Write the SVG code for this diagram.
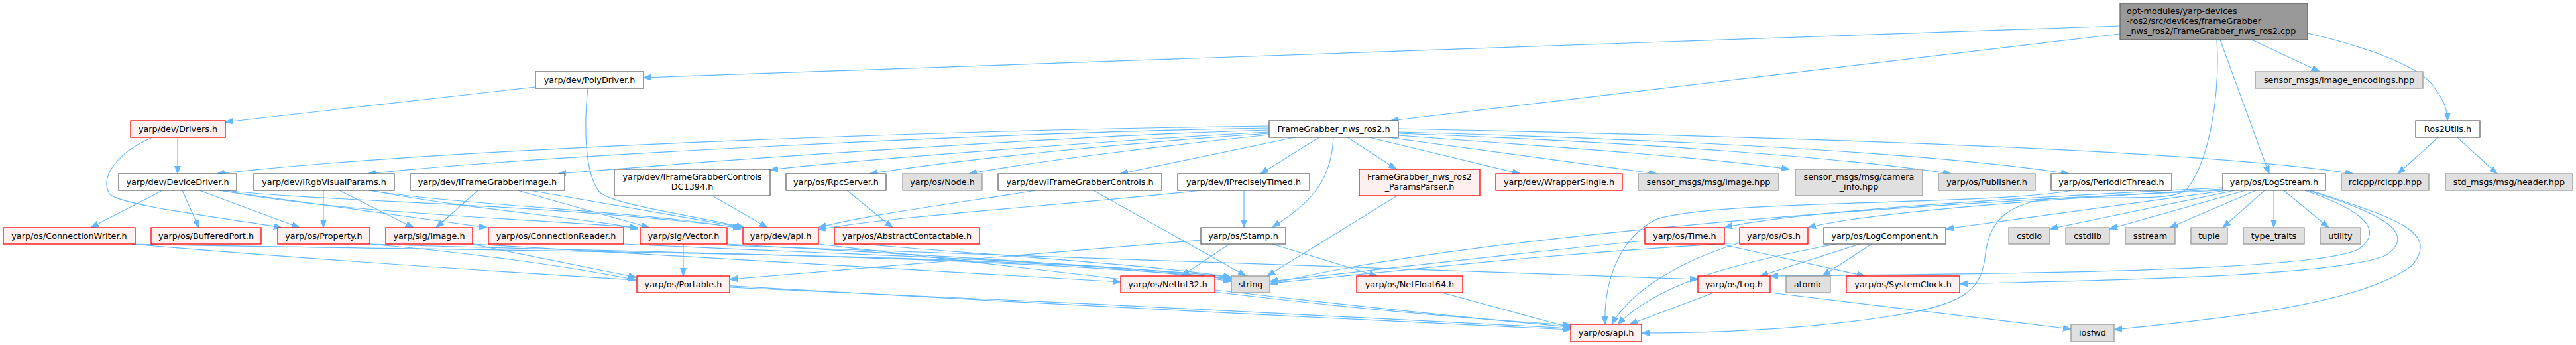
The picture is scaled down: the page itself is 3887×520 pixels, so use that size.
<svg xmlns="http://www.w3.org/2000/svg" width="3887" height="520" viewBox="0 0 3887 520">
<style>
rect{stroke-width:1.3}
.w rect{fill:#ffffff;stroke:#666666}
.r rect{fill:#fff0f0;stroke:#ff0000}
.g rect{fill:#e0e0e0;stroke:#999999}
.m rect{fill:#999999;stroke:#666666}
text{font-family:"DejaVu Sans","Liberation Sans",sans-serif;font-size:12.8px;fill:#000;text-anchor:middle}
.m text{text-anchor:start}
#edges path{fill:none;stroke:#63b8ff;stroke-width:1.2;marker-end:url(#ah)}
</style>
<defs>
<marker id="ah" markerUnits="userSpaceOnUse" markerWidth="13" markerHeight="10" refX="12" refY="4.5" orient="auto">
<path d="M0,0 L12,4.5 L0,9 z" fill="#63b8ff" stroke="#63b8ff" stroke-width="1"/>
</marker>
</defs>
<rect width="3887" height="520" fill="#ffffff"/>
<g id="edges">
<path d="M3199,39 L971,117"/>
<path d="M3199,51 L2098,182"/>
<path d="M3398,60 L3500,108"/>
<path d="M3482,50 C3560,68 3640,95 3668,125 C3688,150 3693,165 3693,182"/>
<path d="M3350,60 L3424,262"/>
<path d="M3345,60 C3350,140 3335,240 3300,285 C3280,300 3250,298 3120,298 C3020,300 3000,340 2995,390 C2988,440 2960,460 2850,477 C2700,500 2550,502 2477,502"/>
<path d="M808,131 L340,184"/>
<path d="M887,133 C882,180 880,260 905,290 C930,310 1050,325 1123,343"/>
<path d="M268,207 L268,262"/>
<path d="M230,207 C180,228 150,265 165,292 C180,310 350,330 425,343"/>
<path d="M1915,190 C1500,195 700,220 327,262"/>
<path d="M1915,193 C1500,200 800,235 555,262"/>
<path d="M1915,196 C1600,205 1100,240 842,262"/>
<path d="M1915,199 C1700,210 1300,240 1162,256"/>
<path d="M1915,201 C1700,215 1450,240 1312,262"/>
<path d="M1915,203 C1750,220 1550,245 1462,262"/>
<path d="M1958,206 L1690,262"/>
<path d="M1992,206 L1902,262"/>
<path d="M2012,206 C2010,260 1990,300 1920,342"/>
<path d="M2032,206 L2107,255"/>
<path d="M2062,206 L2294,262"/>
<path d="M2095,207 L2500,262"/>
<path d="M2110,204 C2400,225 2600,240 2700,255"/>
<path d="M2110,201 C2500,215 2800,240 2944,262"/>
<path d="M2110,199 C2600,212 2950,235 3122,262"/>
<path d="M2110,194 C2800,208 3350,230 3551,262"/>
<path d="M3679,207 L3618,262"/>
<path d="M3708,207 L3768,262"/>
<path d="M245,287 L137,343"/>
<path d="M275,287 L300,343"/>
<path d="M301,287 L452,343"/>
<path d="M329,287 L735,343"/>
<path d="M340,287 C500,305 800,305 1118,343"/>
<path d="M335,287 C500,320 800,330 962,343"/>
<path d="M488,287 L488,343"/>
<path d="M512,287 L624,343"/>
<path d="M556,287 C700,310 1000,320 1118,345"/>
<path d="M560,287 C700,315 900,330 962,345"/>
<path d="M721,287 L658,343"/>
<path d="M781,287 L980,343"/>
<path d="M800,287 L1122,343"/>
<path d="M1075,295 L1158,343"/>
<path d="M1278,287 L1347,343"/>
<path d="M1563,287 C1450,305 1300,325 1235,343"/>
<path d="M1650,287 L1880,416"/>
<path d="M1877,287 L1877,343"/>
<path d="M1812,287 C1600,310 1350,325 1235,346"/>
<path d="M2108,295 L1912,416"/>
<path d="M1855,368 L1783,416"/>
<path d="M1920,368 L2078,416"/>
<path d="M1812,362 L1101,421"/>
<path d="M1031,368 L1031,416"/>
<path d="M712,368 L960,418"/>
<path d="M558,368 C700,380 850,400 960,422"/>
<path d="M199,368 C800,420 1800,470 2370,497"/>
<path d="M199,368 C600,378 1500,378 1858,418"/>
<path d="M558,368 C900,380 1500,385 1858,420"/>
<path d="M941,368 C1300,385 1700,395 1858,422"/>
<path d="M1097,368 C1400,385 1700,400 1858,424"/>
<path d="M1097,370 L2562,421"/>
<path d="M713,368 L1691,425"/>
<path d="M1300,368 C1500,385 1750,400 1858,418"/>
<path d="M1235,368 C1600,410 2100,470 2370,493"/>
<path d="M1101,433 C1500,450 2000,475 2370,495"/>
<path d="M1833,440 C2000,460 2200,480 2370,490"/>
<path d="M2176,441 L2370,494"/>
<path d="M2482,363 C2300,380 2100,405 1916,424"/>
<path d="M2596,368 L2814,416"/>
<path d="M2625,366 C2300,385 2100,410 1916,427"/>
<path d="M2625,366 C2530,395 2460,440 2432,489"/>
<path d="M2806,368 L2656,416"/>
<path d="M2824,368 L2750,416"/>
<path d="M2770,368 C2600,400 2500,430 2441,489"/>
<path d="M2586,441 L2459,489"/>
<path d="M2671,441 L3125,496"/>
<path d="M3127,287 C3000,310 2600,300 2500,330 C2440,360 2420,430 2422,489"/>
<path d="M3360,287 L2936,345"/>
<path d="M3372,287 L3093,345"/>
<path d="M3388,287 L3183,345"/>
<path d="M3404,287 L3274,343"/>
<path d="M3417,287 L3354,343"/>
<path d="M3431,287 L3431,343"/>
<path d="M3446,287 L3514,343"/>
<path d="M3354,283 C3000,300 2700,320 2602,343"/>
<path d="M3354,285 C3000,305 2800,325 2728,343"/>
<path d="M3354,287 C2800,310 2200,360 1916,428"/>
<path d="M3478,287 C3560,315 3600,345 3560,375 C3500,410 3000,413 2671,416"/>
<path d="M3482,287 C3590,320 3650,350 3600,385 C3520,420 3100,423 2957,428"/>
<path d="M3486,287 C3620,330 3680,350 3640,400 C3560,460 3350,480 3190,497"/>
</g>
<g id="n0" class="m"><rect x="3199" y="5" width="283" height="55"/><text x="3209" y="21">opt-modules/yarp-devices</text><text x="3209" y="36">-ros2/src/devices/frameGrabber</text><text x="3209" y="51">_nws_ros2/FrameGrabber_nws_ros2.cpp</text></g>
<g id="n1" class="w"><rect x="808" y="108" width="163" height="25"/><text x="889.5" y="125">yarp/dev/PolyDriver.h</text></g>
<g id="n2" class="g"><rect x="3403" y="108" width="253" height="25"/><text x="3529.5" y="125">sensor_msgs/image_encodings.hpp</text></g>
<g id="n3" class="r"><rect x="197" y="182" width="143" height="25"/><text x="268.5" y="199">yarp/dev/Drivers.h</text></g>
<g id="n4" class="w"><rect x="1915" y="182" width="195" height="25"/><text x="2012.5" y="199">FrameGrabber_nws_ros2.h</text></g>
<g id="n5" class="w"><rect x="3645" y="182" width="97" height="25"/><text x="3693.5" y="199">Ros2Utils.h</text></g>
<g id="n6" class="w"><rect x="179" y="262" width="178" height="25"/><text x="268" y="279">yarp/dev/DeviceDriver.h</text></g>
<g id="n7" class="w"><rect x="383" y="262" width="212" height="25"/><text x="489" y="279">yarp/dev/IRgbVisualParams.h</text></g>
<g id="n8" class="w"><rect x="619" y="262" width="233" height="25"/><text x="735.5" y="279">yarp/dev/IFrameGrabberImage.h</text></g>
<g id="n9" class="w"><rect x="927" y="255" width="235" height="40"/><text x="1044.5" y="271">yarp/dev/IFrameGrabberControls</text><text x="1044.5" y="286">DC1394.h</text></g>
<g id="n10" class="w"><rect x="1186" y="262" width="151" height="25"/><text x="1261.5" y="279">yarp/os/RpcServer.h</text></g>
<g id="n11" class="g"><rect x="1362" y="262" width="120" height="25"/><text x="1422" y="279">yarp/os/Node.h</text></g>
<g id="n12" class="w"><rect x="1506" y="262" width="247" height="25"/><text x="1629.5" y="279">yarp/dev/IFrameGrabberControls.h</text></g>
<g id="n13" class="w"><rect x="1777" y="262" width="199" height="25"/><text x="1876.5" y="279">yarp/dev/IPreciselyTimed.h</text></g>
<g id="n14" class="r"><rect x="2051" y="255" width="182" height="40"/><text x="2142" y="271">FrameGrabber_nws_ros2</text><text x="2142" y="286">_ParamsParser.h</text></g>
<g id="n15" class="r"><rect x="2257" y="262" width="191" height="25"/><text x="2352.5" y="279">yarp/dev/WrapperSingle.h</text></g>
<g id="n16" class="g"><rect x="2472" y="262" width="212" height="25"/><text x="2578" y="279">sensor_msgs/msg/image.hpp</text></g>
<g id="n17" class="g"><rect x="2709" y="255" width="192" height="40"/><text x="2805" y="271">sensor_msgs/msg/camera</text><text x="2805" y="286">_info.hpp</text></g>
<g id="n18" class="g"><rect x="2925" y="262" width="146" height="25"/><text x="2998" y="279">yarp/os/Publisher.h</text></g>
<g id="n19" class="w"><rect x="3095" y="262" width="182" height="25"/><text x="3186" y="279">yarp/os/PeriodicThread.h</text></g>
<g id="n20" class="w"><rect x="3354" y="262" width="155" height="25"/><text x="3431.5" y="279">yarp/os/LogStream.h</text></g>
<g id="n21" class="g"><rect x="3533" y="262" width="132" height="25"/><text x="3599" y="279">rclcpp/rclcpp.hpp</text></g>
<g id="n22" class="g"><rect x="3690" y="262" width="192" height="25"/><text x="3786" y="279">std_msgs/msg/header.hpp</text></g>
<g id="n23" class="r"><rect x="5" y="343" width="199" height="25"/><text x="104.5" y="360">yarp/os/ConnectionWriter.h</text></g>
<g id="n24" class="r"><rect x="228" y="343" width="166" height="25"/><text x="311" y="360">yarp/os/BufferedPort.h</text></g>
<g id="n25" class="r"><rect x="419" y="343" width="139" height="25"/><text x="488.5" y="360">yarp/os/Property.h</text></g>
<g id="n26" class="r"><rect x="582" y="343" width="131" height="25"/><text x="647.5" y="360">yarp/sig/Image.h</text></g>
<g id="n27" class="r"><rect x="737" y="343" width="204" height="25"/><text x="839" y="360">yarp/os/ConnectionReader.h</text></g>
<g id="n28" class="r"><rect x="966" y="343" width="131" height="25"/><text x="1031.5" y="360">yarp/sig/Vector.h</text></g>
<g id="n29" class="r"><rect x="1121" y="343" width="114" height="25"/><text x="1178" y="360">yarp/dev/api.h</text></g>
<g id="n30" class="r"><rect x="1259" y="343" width="219" height="25"/><text x="1368.5" y="360">yarp/os/AbstractContactable.h</text></g>
<g id="n31" class="w"><rect x="1812" y="343" width="128" height="25"/><text x="1876" y="360">yarp/os/Stamp.h</text></g>
<g id="n32" class="r"><rect x="2482" y="343" width="120" height="25"/><text x="2542" y="360">yarp/os/Time.h</text></g>
<g id="n33" class="r"><rect x="2625" y="343" width="103" height="25"/><text x="2676.5" y="360">yarp/os/Os.h</text></g>
<g id="n34" class="w"><rect x="2752" y="343" width="184" height="25"/><text x="2844" y="360">yarp/os/LogComponent.h</text></g>
<g id="n35" class="g"><rect x="3031" y="343" width="62" height="25"/><text x="3062" y="360">cstdio</text></g>
<g id="n36" class="g"><rect x="3117" y="343" width="66" height="25"/><text x="3150" y="360">cstdlib</text></g>
<g id="n37" class="g"><rect x="3207" y="343" width="75" height="25"/><text x="3244.5" y="360">sstream</text></g>
<g id="n38" class="g"><rect x="3306" y="343" width="55" height="25"/><text x="3333.5" y="360">tuple</text></g>
<g id="n39" class="g"><rect x="3385" y="343" width="92" height="25"/><text x="3431" y="360">type_traits</text></g>
<g id="n40" class="g"><rect x="3501" y="343" width="61" height="25"/><text x="3531.5" y="360">utility</text></g>
<g id="n41" class="r"><rect x="961" y="416" width="140" height="25"/><text x="1031" y="433">yarp/os/Portable.h</text></g>
<g id="n42" class="r"><rect x="1691" y="416" width="142" height="25"/><text x="1762" y="433">yarp/os/NetInt32.h</text></g>
<g id="n43" class="g"><rect x="1858" y="416" width="58" height="25"/><text x="1887" y="433">string</text></g>
<g id="n44" class="r"><rect x="2047" y="416" width="160" height="25"/><text x="2127" y="433">yarp/os/NetFloat64.h</text></g>
<g id="n45" class="r"><rect x="2562" y="416" width="109" height="25"/><text x="2616.5" y="433">yarp/os/Log.h</text></g>
<g id="n46" class="g"><rect x="2695" y="416" width="67" height="25"/><text x="2728.5" y="433">atomic</text></g>
<g id="n47" class="r"><rect x="2786" y="416" width="171" height="25"/><text x="2871.5" y="433">yarp/os/SystemClock.h</text></g>
<g id="n48" class="r"><rect x="2370" y="489" width="107" height="26"/><text x="2423.5" y="506">yarp/os/api.h</text></g>
<g id="n49" class="g"><rect x="3125" y="489" width="65" height="26"/><text x="3157.5" y="506">iosfwd</text></g>
</svg>
